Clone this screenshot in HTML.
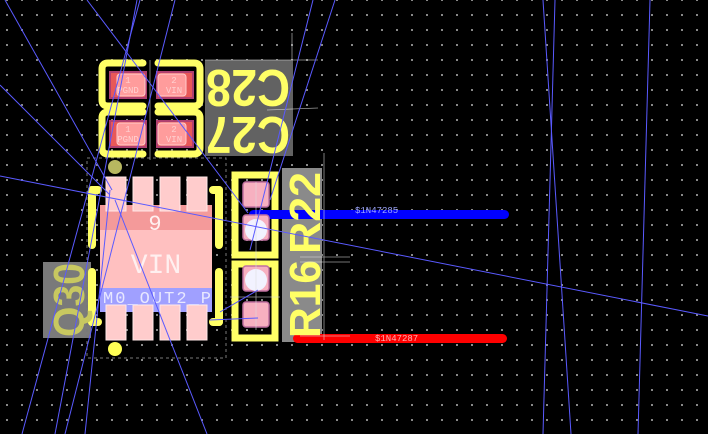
<!DOCTYPE html>
<html><head><style>html,body{margin:0;padding:0;background:#000;}svg{display:block}</style></head>
<body>
<svg width="708" height="434" viewBox="0 0 708 434" xmlns="http://www.w3.org/2000/svg" font-family="Liberation Sans, sans-serif">
<defs>
<pattern id="g" x="6" y="-1" width="15" height="15" patternUnits="userSpaceOnUse"><rect x="0" y="0" width="2" height="2" fill="#888"/></pattern>
</defs>
<rect width="708" height="434" fill="#000"/>
<rect width="708" height="434" fill="url(#g)"/>

<!-- gray label boxes -->
<rect x="205" y="60" width="88" height="96" fill="#626262"/>
<rect x="282" y="168" width="40" height="174" fill="#8a8a8a"/>
<rect x="43" y="262" width="48" height="76" fill="#7a7a7a"/>

<!-- C28 / C27 -->
<g fill="none" stroke="#ffff66" stroke-width="7" stroke-linecap="round">
<path d="M143,63 H108 Q102,63 102,69 V100 Q102,106 108,106 H143"/>
<path d="M158,63 H194 Q200,63 200,69 V100 Q200,106 194,106 H158"/>
<path d="M143,112 H108 Q102,112 102,118 V148 Q102,154 108,154 H143"/>
<path d="M158,112 H194 Q200,112 200,118 V148 Q200,154 194,154 H158"/>
</g>
<g fill="#e85858" stroke="#b04070" stroke-width="2">
<rect x="110" y="72" width="36" height="26"/><rect x="157" y="72" width="36" height="26"/>
<rect x="110" y="121" width="36" height="26"/><rect x="157" y="121" width="36" height="26"/>
</g>
<g fill="#ff9c9c" stroke="#ffcccc" stroke-width="1">
<rect x="117" y="74" width="28" height="22" rx="3"/><rect x="158" y="74" width="28" height="22" rx="3"/>
<rect x="117" y="123" width="28" height="22" rx="3"/><rect x="158" y="123" width="28" height="22" rx="3"/>
</g>
<g fill="#ffd0d0" font-size="9" text-anchor="middle" font-family="Liberation Mono, monospace">
<text x="128" y="83">1</text><text x="128" y="93">PGND</text>
<text x="174" y="83">2</text><text x="174" y="93">VIN</text>
<text x="128" y="132">1</text><text x="128" y="142">PGND</text>
<text x="174" y="132">2</text><text x="174" y="142">VIN</text>
</g>
<g fill="#ffff66" font-weight="bold" font-size="52">
<text transform="translate(290,70) rotate(180)" textLength="84" lengthAdjust="spacingAndGlyphs">C28</text>
<text transform="translate(290,117) rotate(180)" textLength="84" lengthAdjust="spacingAndGlyphs">C27</text>
</g>

<!-- Q30 -->
<rect x="87" y="158" width="139" height="200" fill="none" stroke="#777" stroke-dasharray="3,3"/>
<rect x="100" y="205" width="112" height="25" fill="#f49a9a"/>
<rect x="100" y="230" width="112" height="58" fill="#ffc0c0"/>
<rect x="100" y="288" width="112" height="24" fill="#a0a0ff"/>
<g fill="#ffcccc" stroke="#ffe8e8" stroke-width="1">
<rect x="106" y="177" width="20" height="34"/><rect x="133" y="177" width="20" height="34"/>
<rect x="160" y="177" width="20" height="34"/><rect x="187" y="177" width="20" height="34"/>
<rect x="106" y="305" width="20" height="35"/><rect x="133" y="305" width="20" height="35"/>
<rect x="160" y="305" width="20" height="35"/><rect x="187" y="305" width="20" height="35"/>
</g>
<text x="155" y="230" fill="#fff0f0" font-size="22" text-anchor="middle" font-family="Liberation Mono, monospace">9</text>
<text x="156" y="273" fill="#fff0f0" font-size="28" text-anchor="middle" font-family="Liberation Mono, monospace">VIN</text>
<text x="103" y="303" fill="#e8e8ff" font-size="17" font-family="Liberation Mono, monospace" textLength="108">M0_OUT2_P</text>
<g stroke="#ffff66" stroke-width="8" stroke-linecap="round" fill="none">
<line x1="92" y1="190" x2="92" y2="245"/><line x1="92" y1="272" x2="92" y2="322"/>
<line x1="219" y1="190" x2="219" y2="245"/><line x1="219" y1="272" x2="219" y2="322"/>
<line x1="92" y1="190" x2="98" y2="190"/><line x1="213" y1="190" x2="219" y2="190"/>
<line x1="92" y1="322" x2="98" y2="322"/><line x1="213" y1="322" x2="219" y2="322"/>
</g>
<circle cx="115" cy="167" r="7" fill="#b8b860"/>
<circle cx="115" cy="349" r="7" fill="#ffff55"/>
<text transform="translate(84,300) rotate(-90)" fill="#c8c860" font-weight="bold" font-size="44" text-anchor="middle" textLength="74" lengthAdjust="spacingAndGlyphs">Q30</text>

<!-- R22 / R16 -->
<g fill="none" stroke="#ffff66" stroke-width="7">
<rect x="235" y="175" width="40" height="80"/>
<rect x="235" y="264" width="40" height="74"/>
</g>
<rect x="249" y="210" width="260" height="9" rx="4.5" fill="#0000ff"/>
<rect x="293" y="334" width="214" height="9" rx="4.5" fill="#ff0000"/>
<g fill="#f7b0c0" stroke="#c070a0" stroke-width="1.5">
<rect x="243" y="182" width="26" height="25" rx="3"/>
<rect x="243" y="215" width="26" height="25" rx="3"/>
<rect x="243" y="266" width="26" height="25" rx="3"/>
<rect x="243" y="302" width="26" height="25" rx="3"/>
</g>
<circle cx="256" cy="230" r="11" fill="#f2f2ff"/>
<circle cx="256" cy="280" r="11" fill="#f2f2ff"/>
<g fill="#ffff66" font-weight="bold" font-size="44">
<text transform="translate(320,254) rotate(-90)" textLength="82" lengthAdjust="spacingAndGlyphs">R22</text>
<text transform="translate(320,338) rotate(-90)" textLength="78" lengthAdjust="spacingAndGlyphs">R16</text>
</g>
<text x="355" y="213" fill="#9fa8ff" font-size="9" font-family="Liberation Mono, monospace">$1N47285</text>
<text x="375" y="341" fill="#ffb0b0" font-size="9" font-family="Liberation Mono, monospace">$1N47287</text>

<!-- thin white lines -->
<g stroke="#dddddd" stroke-width="0.8" opacity="0.7">
<line x1="150" y1="60" x2="150" y2="160"/><line x1="292" y1="33" x2="292" y2="60"/>
<line x1="267" y1="110" x2="318" y2="108"/><line x1="205" y1="60" x2="318" y2="60"/>
<line x1="324" y1="153" x2="324" y2="340"/><line x1="300" y1="257" x2="350" y2="257"/>
<line x1="300" y1="262" x2="350" y2="262"/><line x1="230" y1="297" x2="280" y2="297"/>
<line x1="256" y1="182" x2="256" y2="330"/><line x1="300" y1="336" x2="350" y2="336"/>
</g>

<!-- ratsnest -->
<g stroke="#5a5aff" stroke-width="1" fill="none">
<line x1="0" y1="176" x2="708" y2="316"/>
<line x1="5" y1="0" x2="112" y2="190"/>
<line x1="0" y1="85" x2="110" y2="195"/>
<line x1="87" y1="0" x2="248" y2="213"/>
<line x1="140" y1="0" x2="22" y2="434"/>
<line x1="137" y1="0" x2="55" y2="434"/>
<line x1="175" y1="0" x2="65" y2="434"/>
<line x1="110" y1="190" x2="85" y2="434"/>
<line x1="115" y1="200" x2="207" y2="434"/>
<line x1="313" y1="0" x2="250" y2="250"/>
<line x1="335" y1="0" x2="270" y2="200"/>
<line x1="543" y1="0" x2="571" y2="434"/>
<line x1="555" y1="0" x2="543" y2="434"/>
<line x1="650" y1="0" x2="638" y2="434"/>
<line x1="220" y1="312" x2="258" y2="290"/>
<line x1="210" y1="320" x2="258" y2="318"/>
</g>
</svg>
</body></html>
